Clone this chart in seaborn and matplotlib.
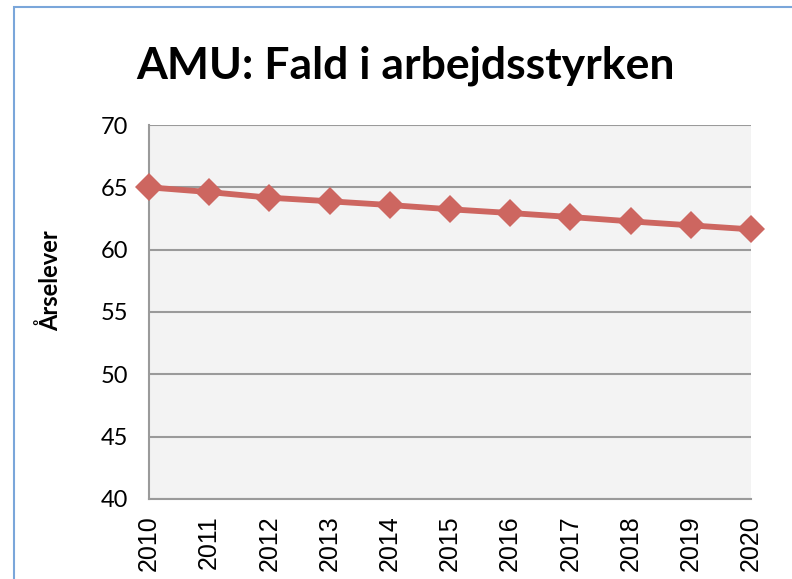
import matplotlib.pyplot as plt
import seaborn as sns
import pandas as pd
from matplotlib.patches import Rectangle

years = [2010, 2011, 2012, 2013, 2014, 2015, 2016, 2017, 2018, 2019, 2020]
aarselever = [65.0, 64.62, 64.17, 63.88, 63.58, 63.24, 62.94, 62.62, 62.27, 61.95, 61.63]
yticks = [40, 45, 50, 55, 60, 65, 70]

df = pd.DataFrame({"År": years, "Årselever": aarselever})

sns.set_style("white")
plt.rcParams["font.family"] = ["Lato", "DejaVu Sans"]
plt.rcParams["text.color"] = "black"
plt.rcParams["xtick.color"] = "black"
plt.rcParams["ytick.color"] = "black"
plt.rcParams["axes.labelcolor"] = "black"

fig = plt.figure(figsize=(7.92, 5.79), dpi=100)
ax = fig.add_axes([149 / 792, 1 - 499 / 579, (751 - 149) / 792, (499 - 125) / 579])

# ramme om diagrammet
fig.patches.append(Rectangle((14 / 792, -0.1), 1.2, 1 - 7 / 579 + 0.1, transform=fig.transFigure,
                             fill=False, edgecolor="#7aa6da", linewidth=1.5))

ax.set_facecolor("#f3f3f3")
sns.lineplot(data=df, x="År", y="Årselever", ax=ax, color="#cd6660", linewidth=4.2,
             marker="D", markersize=14, markeredgewidth=0, clip_on=False, zorder=3)

ax.set_xlim(2010, 2020)
ax.set_ylim(40, 70)
ax.set_yticks(yticks)
ax.set_xticks(years)
ax.set_xticklabels([str(y) for y in years], rotation=90, fontsize=18,
                   family=["Liberation Sans"])
ax.set_yticklabels([str(v) for v in yticks], fontsize=17)
ax.tick_params(axis="y", length=0, pad=15)
ax.tick_params(axis="x", length=0, pad=12)
ax.yaxis.grid(True, color="#9a9a9a", linewidth=1.5)
ax.set_axisbelow(True)
for s in ["top", "right"]:
    ax.spines[s].set_visible(False)
for s in ["left", "bottom"]:
    ax.spines[s].set_color("#9a9a9a")
    ax.spines[s].set_linewidth(1.5)

ax.set_xlabel("")
ax.set_ylabel("Årselever", fontsize=17, fontweight="bold")
ax.yaxis.set_label_coords(-0.1445, 0.583)
fig.suptitle("AMU: Fald i arbejdsstyrken", fontsize=32, fontweight="bold",
             x=406 / 792, y=1 - 46 / 579, va="top")

plt.savefig("out.png", dpi=100)
